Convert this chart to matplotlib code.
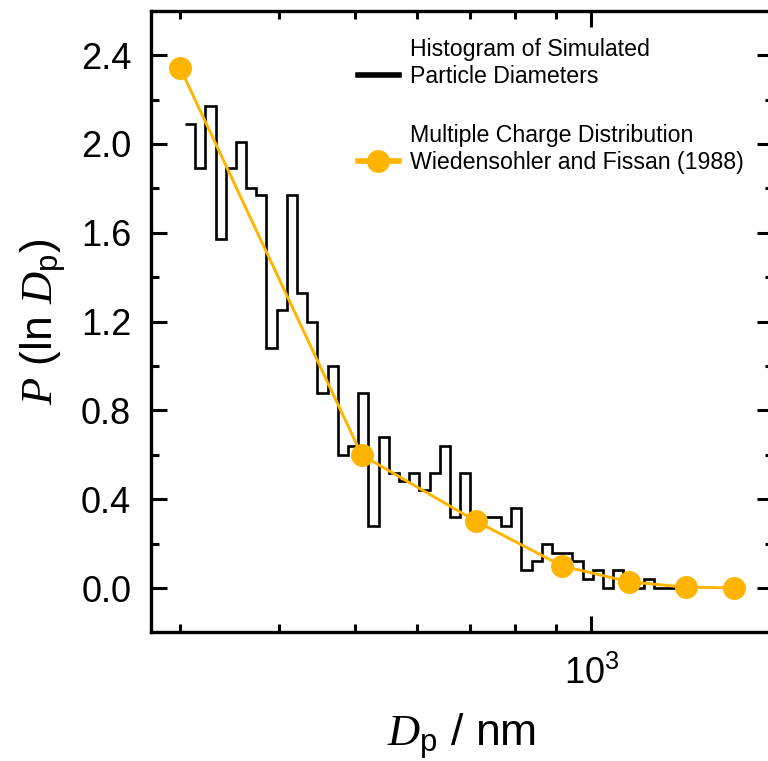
import numpy as np
import matplotlib
matplotlib.use('Agg')
import matplotlib.pyplot as plt
from matplotlib.lines import Line2D
from matplotlib.ticker import FixedLocator, MultipleLocator, NullFormatter

plt.rcParams['font.family'] = 'Liberation Sans'
plt.rcParams['mathtext.fontset'] = 'custom'
plt.rcParams['mathtext.rm'] = 'Liberation Sans'
plt.rcParams['mathtext.it'] = 'Liberation Serif:italic'

# histogram of simulated particle diameters, 50 log-spaced bins
bin_lo, bin_hi, n_bins = 304, 1353, 50
hist_p = [2.09, 1.89, 2.17, 1.57, 1.89, 2.01, 1.80, 1.77, 1.08, 1.25,
          1.77, 1.33, 1.20, 0.88, 1.00, 0.60, 0.64, 0.88, 0.28, 0.68,
          0.52, 0.48, 0.52, 0.44, 0.52, 0.64, 0.32, 0.52, 0.32, 0.32,
          0.32, 0.28, 0.36, 0.08, 0.12, 0.20, 0.16, 0.16, 0.12, 0.04,
          0.08, 0.00, 0.08, 0.04, 0.00, 0.04, 0.00, 0.00, 0.00, 0.00]

# multiple charge distribution, Wiedensohler and Fissan (1988)
charge_dp = [300, 510, 714, 917, 1117, 1317, 1517]
charge_p = [2.34, 0.60, 0.30, 0.10, 0.028, 0.004, 0.001]

orange = '#FFB400'

fig = plt.figure(figsize=(7.68, 7.61), dpi=100)
ax = fig.add_axes([0.1962, 0.1689, 0.8099, 0.8170])

edges = np.geomspace(bin_lo, bin_hi, n_bins + 1)
ax.stairs(hist_p, edges, baseline=None, color='black', lw=1.9, zorder=2)
ax.plot(charge_dp, charge_p, '-o', color=orange, lw=2.1, ms=15.5, zorder=3)

ax.set_xscale('log')
ax.set_xlim(275, 1700)
ax.set_ylim(-0.2, 2.6)
ax.xaxis.set_major_locator(FixedLocator([1000]))
ax.xaxis.set_minor_locator(FixedLocator([300, 400, 500, 600, 700, 800, 900]))
ax.xaxis.set_minor_formatter(NullFormatter())
ax.yaxis.set_major_locator(MultipleLocator(0.4))
ax.yaxis.set_minor_locator(MultipleLocator(0.2))
ax.yaxis.set_major_formatter(lambda v, p: f'{v:.1f}')

for s in ax.spines.values():
    s.set_linewidth(2.4)
ax.tick_params(which='both', direction='in', top=True, right=True, width=2.2,
               labelsize=26, pad=14)
ax.tick_params(axis='x', pad=17)
ax.tick_params(which='major', length=11.5)
ax.tick_params(which='minor', length=5.5)

ax.set_xlabel(r'$D_\mathrm{p}$ / nm', fontsize=32, labelpad=14)
ax.set_ylabel(r'$P$ (ln $D_\mathrm{p}$)', fontsize=32, labelpad=9)

handles = [Line2D([], [], color='none'),
           Line2D([], [], color='black', lw=4),
           Line2D([], [], color='none'),
           Line2D([], [], color='none'),
           Line2D([], [], color=orange, lw=4, marker='o', ms=15.5)]
labels = ['Histogram of Simulated', 'Particle Diameters', ' ',
          'Multiple Charge Distribution', 'Wiedensohler and Fissan (1988)']
leg = ax.legend(handles, labels, loc='upper left', bbox_to_anchor=(0.3326, 0.956),
                frameon=False, fontsize=16.7, borderpad=0, borderaxespad=0,
                handlelength=1.8, handletextpad=0.45, labelspacing=0.17)
leg.get_texts()[2].set_fontsize(21)

fig.savefig('out.png', dpi=100)
